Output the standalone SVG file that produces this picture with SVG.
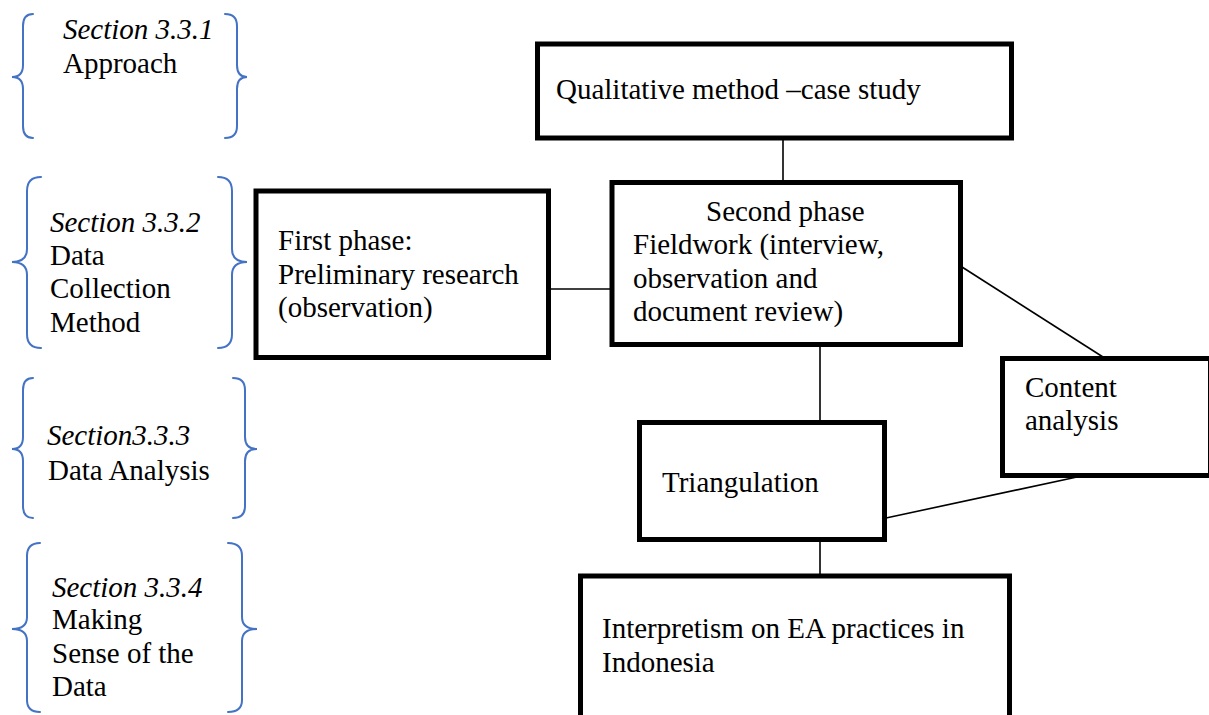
<svg xmlns="http://www.w3.org/2000/svg" width="1209" height="715" viewBox="0 0 1209 715">
  <style>
    .box { fill: #ffffff; stroke: #000000; stroke-width: 5; }
    .link { stroke: #000000; stroke-width: 1.6; fill: none; }
    .brace { fill: none; stroke: #4472C4; stroke-width: 2; stroke-linecap: round; }
    text { font-family: "Liberation Serif", "Times New Roman", serif; font-size: 29px; fill: #000000; }
    .it { font-style: italic; }
  </style>
  <rect width="1209" height="715" fill="#ffffff"/>

  <!-- Section braces -->
  <g id="sec-331">
    <path class="brace" d="M33,14 Q23,14 23,26 L23,65 Q23,77 12,77 Q23,77 23,89 L23,126 Q23,138 33,138"/>
    <path class="brace" d="M225,14 Q237,14 237,26 L237,65 Q237,77 247,77 Q237,77 237,89 L237,126 Q237,138 225,138"/>
    <text x="63" y="39" class="it">Section 3.3.1</text>
    <text x="63" y="73">Approach</text>
  </g>
  <g id="sec-332">
    <path class="brace" d="M41,177 Q27,177 27,191 L27,249 Q27,262 12,262 Q27,262 27,275 L27,334 Q27,348 41,348"/>
    <path class="brace" d="M218,177 Q232,177 232,191 L232,249 Q232,262 247,262 Q232,262 232,275 L232,334 Q232,348 218,348"/>
    <text x="50" y="232" class="it">Section 3.3.2</text>
    <text x="50" y="265">Data</text>
    <text x="50" y="298">Collection</text>
    <text x="50" y="332">Method</text>
  </g>
  <g id="sec-333">
    <path class="brace" d="M33,378 Q23,378 23,390 L23,437 Q23,449 12,449 Q23,449 23,461 L23,506 Q23,518 33,518"/>
    <path class="brace" d="M233,378 Q245,378 245,390 L245,437 Q245,449 257,449 Q245,449 245,461 L245,506 Q245,518 233,518"/>
    <text x="47" y="445" class="it">Section3.3.3</text>
    <text x="48" y="480">Data Analysis</text>
  </g>
  <g id="sec-334">
    <path class="brace" d="M40,543 Q27,543 27,556 L27,617 Q27,629 12,629 Q27,629 27,641 L27,700 Q27,712 40,712"/>
    <path class="brace" d="M228,543 Q242,543 242,556 L242,617 Q242,629 257,629 Q242,629 242,641 L242,700 Q242,712 228,712"/>
    <text x="52" y="597" class="it">Section 3.3.4</text>
    <text x="52" y="629">Making</text>
    <text x="52" y="663">Sense of the</text>
    <text x="52" y="696">Data</text>
  </g>

  <!-- Connectors -->
  <g id="connectors">
    <line class="link" x1="783" y1="140" x2="783" y2="181"/>
    <line class="link" x1="550" y1="289" x2="610" y2="289"/>
    <line class="link" x1="962" y1="267" x2="1103" y2="357"/>
    <line class="link" x1="820" y1="346" x2="820" y2="421"/>
    <line class="link" x1="886" y1="518" x2="1077" y2="477"/>
    <line class="link" x1="820" y1="541" x2="820" y2="574"/>
  </g>

  <!-- Nodes -->
  <g id="qualitative">
    <rect class="box" x="537.5" y="44" width="474" height="94"/>
    <text x="556" y="99">Qualitative method –case study</text>
  </g>
  <g id="first-phase">
    <rect class="box" x="256" y="191" width="292.5" height="166.5"/>
    <text x="278" y="250">First phase:</text>
    <text x="278" y="283.5">Preliminary research</text>
    <text x="278" y="317">(observation)</text>
  </g>
  <g id="second-phase">
    <rect class="box" x="612" y="182.5" width="348.5" height="162"/>
    <text x="706" y="221">Second phase</text>
    <text x="633" y="254">Fieldwork (interview,</text>
    <text x="633" y="288">observation and</text>
    <text x="633" y="321">document review)</text>
  </g>
  <g id="content-analysis">
    <rect class="box" x="1002.5" y="358.5" width="208" height="117"/>
    <text x="1025" y="397">Content</text>
    <text x="1025" y="430">analysis</text>
  </g>
  <g id="triangulation">
    <rect class="box" x="639.5" y="422.5" width="245" height="117"/>
    <text x="662" y="492">Triangulation</text>
  </g>
  <g id="interpretism">
    <rect class="box" x="580.5" y="576" width="429" height="150"/>
    <text x="602" y="638">Interpretism on EA practices in</text>
    <text x="602" y="672">Indonesia</text>
  </g>
</svg>
